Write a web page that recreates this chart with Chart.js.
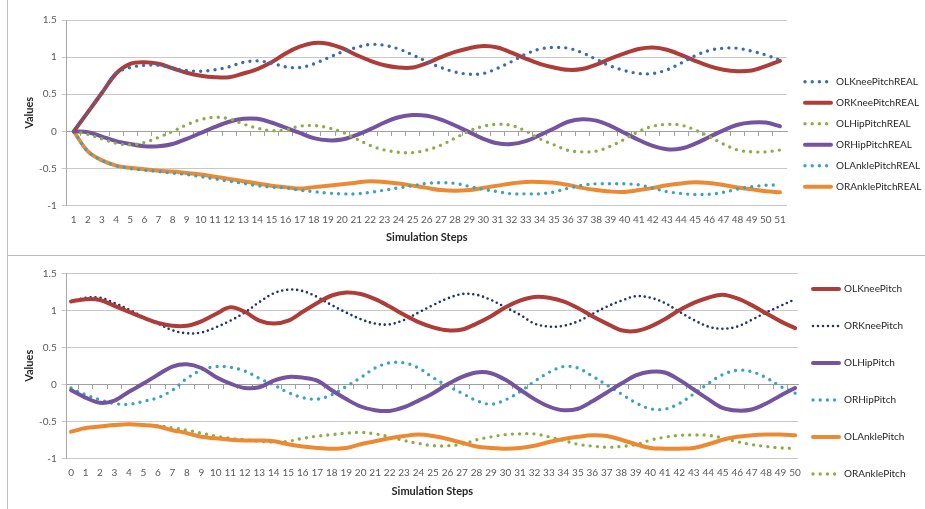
<!DOCTYPE html>
<html>
<head>
<meta charset="utf-8">
<script src="https://cdn.jsdelivr.net/npm/chart.js@4.4.1/dist/chart.umd.min.js"></script>
<style>
html,body{margin:0;padding:0;background:#fff;}
#wrap{position:relative;width:925px;height:509px;overflow:hidden;background:#fff;}
.pane{position:absolute;left:0;width:925px;}
#p1{top:0;height:252px;}
#p2{top:255px;height:254px;}
.frame{position:absolute;background:#bdbdbd;}
</style>
</head>
<body>
<div id="wrap">
  <div class="pane" id="p1"><canvas id="c1" width="925" height="252"></canvas></div>
  <div class="pane" id="p2"><canvas id="c2" width="925" height="254"></canvas></div>
  <div class="frame" style="left:7px;top:0;width:1px;height:509px"></div>
  <div class="frame" style="left:7px;top:255px;width:918px;height:1px"></div>
</div>
<script>
// ---------- top chart data ----------
const stepsTop = [1,2,3,4,5,6,7,8,9,10,11,12,13,14,15,16,17,18,19,20,21,22,23,24,25,26,27,28,29,30,31,32,33,34,35,36,37,38,39,40,41,42,43,44,45,46,47,48,49,50,51];
const olKneeReal  = [0,0.26,0.52,0.78,0.86,0.89,0.89,0.85,0.82,0.81,0.83,0.87,0.93,0.95,0.92,0.87,0.86,0.91,0.99,1.07,1.13,1.17,1.16,1.11,1.03,0.94,0.86,0.80,0.77,0.78,0.85,0.94,1.04,1.11,1.13,1.12,1.06,0.97,0.88,0.82,0.78,0.78,0.83,0.92,1.02,1.09,1.12,1.12,1.08,1.03,0.96];
const orKneeReal  = [0,0.26,0.52,0.78,0.91,0.93,0.91,0.85,0.79,0.75,0.73,0.73,0.78,0.84,0.93,1.05,1.14,1.19,1.18,1.12,1.03,0.95,0.89,0.86,0.86,0.92,1.00,1.07,1.12,1.15,1.13,1.06,0.98,0.91,0.86,0.83,0.84,0.90,0.98,1.05,1.11,1.13,1.10,1.03,0.95,0.88,0.83,0.81,0.82,0.88,0.95];
const olHipReal   = [0,-0.04,-0.10,-0.16,-0.18,-0.15,-0.08,0,0.09,0.16,0.19,0.17,0.10,0.045,0.01,0.02,0.07,0.08,0.05,-0.01,-0.10,-0.19,-0.25,-0.28,-0.285,-0.25,-0.185,-0.09,0.005,0.07,0.095,0.08,0.005,-0.10,-0.18,-0.255,-0.275,-0.265,-0.20,-0.105,0,0.07,0.095,0.085,0.02,-0.07,-0.17,-0.25,-0.275,-0.275,-0.25];
const orHipReal   = [0,-0.01,-0.07,-0.13,-0.17,-0.20,-0.20,-0.17,-0.10,-0.02,0.06,0.13,0.17,0.17,0.12,0.05,-0.02,-0.09,-0.12,-0.11,-0.05,0.03,0.12,0.19,0.22,0.21,0.16,0.08,-0.01,-0.10,-0.16,-0.17,-0.13,-0.05,0.04,0.13,0.165,0.145,0.075,-0.02,-0.115,-0.195,-0.24,-0.23,-0.165,-0.075,0.015,0.09,0.12,0.12,0.07];
const olAnkleReal = [0,-0.27,-0.39,-0.46,-0.50,-0.52,-0.54,-0.56,-0.58,-0.61,-0.64,-0.67,-0.70,-0.73,-0.75,-0.76,-0.79,-0.81,-0.83,-0.84,-0.84,-0.82,-0.79,-0.76,-0.73,-0.70,-0.69,-0.70,-0.74,-0.78,-0.81,-0.84,-0.84,-0.84,-0.815,-0.765,-0.725,-0.705,-0.705,-0.705,-0.72,-0.765,-0.81,-0.835,-0.85,-0.845,-0.82,-0.775,-0.745,-0.725,-0.72];
const orAnkleReal = [0,-0.27,-0.39,-0.46,-0.49,-0.51,-0.53,-0.54,-0.56,-0.58,-0.61,-0.64,-0.67,-0.70,-0.73,-0.75,-0.77,-0.75,-0.73,-0.71,-0.69,-0.67,-0.68,-0.70,-0.73,-0.76,-0.79,-0.80,-0.79,-0.76,-0.73,-0.70,-0.68,-0.68,-0.69,-0.72,-0.76,-0.79,-0.81,-0.815,-0.79,-0.76,-0.725,-0.70,-0.685,-0.695,-0.72,-0.755,-0.78,-0.805,-0.82];

// ---------- bottom chart data ----------
const stepsBottom = [0,1,2,3,4,5,6,7,8,9,10,11,12,13,14,15,16,17,18,19,20,21,22,23,24,25,26,27,28,29,30,31,32,33,34,35,36,37,38,39,40,41,42,43,44,45,46,47,48,49,50];
const olKnee  = [1.12,1.15,1.14,1.06,0.98,0.90,0.83,0.79,0.79,0.85,0.95,1.04,0.98,0.86,0.82,0.86,0.98,1.10,1.20,1.24,1.22,1.15,1.05,0.94,0.84,0.77,0.73,0.74,0.82,0.92,1.04,1.13,1.18,1.17,1.12,1.03,0.92,0.82,0.73,0.72,0.78,0.88,1.00,1.10,1.17,1.21,1.16,1.07,0.96,0.85,0.76];
const orKnee  = [1.12,1.17,1.17,1.10,1.01,0.91,0.82,0.73,0.69,0.70,0.77,0.86,0.97,1.11,1.23,1.28,1.26,1.18,1.07,0.97,0.88,0.82,0.81,0.87,0.97,1.07,1.16,1.22,1.21,1.14,1.04,0.94,0.82,0.78,0.79,0.85,0.95,1.05,1.13,1.19,1.17,1.10,0.98,0.87,0.78,0.75,0.78,0.87,0.97,1.06,1.15];
const olHip   = [-0.08,-0.18,-0.25,-0.22,-0.10,0.01,0.13,0.24,0.27,0.22,0.10,0.01,-0.05,-0.04,0.05,0.10,0.09,0.05,-0.08,-0.20,-0.30,-0.35,-0.36,-0.31,-0.22,-0.12,0,0.10,0.16,0.15,0.06,-0.07,-0.20,-0.30,-0.35,-0.33,-0.23,-0.11,0.01,0.12,0.17,0.16,0.06,-0.07,-0.20,-0.32,-0.355,-0.34,-0.26,-0.15,-0.05];
const orHip   = [-0.05,-0.14,-0.21,-0.26,-0.27,-0.23,-0.18,-0.08,0.08,0.19,0.24,0.23,0.18,0.08,-0.01,-0.11,-0.18,-0.20,-0.14,-0.03,0.09,0.22,0.29,0.29,0.22,0.09,-0.02,-0.12,-0.22,-0.27,-0.21,-0.10,0.04,0.16,0.24,0.22,0.11,-0.01,-0.13,-0.25,-0.33,-0.335,-0.26,-0.13,0.01,0.13,0.19,0.17,0.09,-0.03,-0.12];
const olAnkle = [-0.64,-0.59,-0.57,-0.55,-0.54,-0.55,-0.57,-0.62,-0.66,-0.71,-0.73,-0.75,-0.76,-0.76,-0.77,-0.81,-0.84,-0.86,-0.87,-0.86,-0.81,-0.77,-0.73,-0.70,-0.68,-0.70,-0.74,-0.79,-0.84,-0.86,-0.87,-0.86,-0.83,-0.78,-0.74,-0.71,-0.69,-0.70,-0.75,-0.81,-0.86,-0.87,-0.87,-0.86,-0.81,-0.75,-0.71,-0.69,-0.68,-0.68,-0.69];
const orAnkle = [-0.64,-0.60,-0.57,-0.55,-0.54,-0.55,-0.56,-0.59,-0.62,-0.66,-0.70,-0.73,-0.75,-0.77,-0.78,-0.77,-0.73,-0.70,-0.68,-0.66,-0.65,-0.67,-0.71,-0.76,-0.80,-0.83,-0.83,-0.81,-0.75,-0.71,-0.68,-0.67,-0.67,-0.71,-0.76,-0.81,-0.835,-0.85,-0.84,-0.815,-0.755,-0.715,-0.69,-0.685,-0.69,-0.725,-0.775,-0.815,-0.84,-0.86,-0.865];

const yTicks = [-1,-0.5,0,0.5,1,1.5];

const C = {
  blue:'#3A6DB0', red:'#AE3D39', green:'#8BAE48', purple:'#74539F',
  teal:'#3CA3C0', orange:'#EC8A33', navy:'#1F3768'
};
const F = 'Lato, "Open Sans", sans-serif';

// places the library's legend box at a fixed spot and forces its width
const legendPlace = {
  id: 'legendPlace',
  beforeLayout(chart, args, o) {
    const lg = chart.legend;
    if (lg && !lg._fixedW) {
      const fit = lg.fit;
      lg.fit = function () { fit.call(this); this.width = o.width; };
      lg._fixedW = true;
    }
  },
  afterLayout(chart, args, o) {
    const lg = chart.legend;
    if (!lg) return;
    const pad = lg.options.labels.padding;
    const w = lg.width;
    lg.left = o.x - pad; lg.right = lg.left + w;
    lg.top = o.y - pad; lg.bottom = lg.top + 1000;
  }
};

function buildChart(id, opt) {
  const H = opt.height;
  const datasets = opt.series.map(s => ({
    label: s.label,
    data: s.values.map((v, i) => ({x: opt.steps[i], y: v})),
    borderColor: s.color,
    backgroundColor: s.color,
    borderWidth: s.dotted ? (s.w || 3.4) : 4,
    borderDash: s.dotted ? [0, s.gap || 7.2] : [],
    borderCapStyle: 'round',
    borderJoinStyle: 'round',
    pointRadius: 0,
    pointHoverRadius: 0,
    tension: 0.35,
    fill: false
  }));
  const bounds = opt.steps.slice(1).map(v => v - 0.5);
  return new Chart(document.getElementById(id), {
    type: 'line',
    data: { datasets },
    plugins: [legendPlace],
    options: {
      responsive: false,
      animation: false,
      devicePixelRatio: 1,
      events: [],
      layout: { padding: { top: opt.areaTop, left: 0, right: 0, bottom: 0 } },
      scales: {
        x: {
          type: 'linear', position: 'bottom', min: opt.xmin, max: opt.xmax,
          afterBuildTicks: s => { s.ticks = opt.steps.map(v => ({value: v})); },
          ticks: { autoSkip: false, maxRotation: 0, minRotation: 0, padding: opt.xLabelPad,
                   color: '#595959', font: {family: F, size: 10}, callback: v => String(v) },
          grid: { display: false, drawTicks: false },
          border: { display: false },
          title: { display: true, text: 'Simulation Steps', color: '#262626',
                   font: {family: F, size: 11, weight: 'bold'}, padding: {top: 0, bottom: opt.xTitlePad} },
          afterFit: s => { s.height = H - opt.areaBottom; }
        },
        x0: {
          type: 'linear', axis: 'x', position: {y: 0}, min: opt.xmin, max: opt.xmax,
          afterBuildTicks: s => { s.ticks = bounds.map(v => ({value: v})); },
          ticks: { display: false },
          grid: { display: true, drawOnChartArea: false, drawTicks: true, tickLength: 4, tickColor: '#a0a0a0', tickWidth: 1 },
          border: { display: true, color: '#a0a0a0', width: 1 }
        },
        y: {
          type: 'linear', min: -1, max: 1.5,
          afterBuildTicks: s => { s.ticks = yTicks.map(v => ({value: v})); },
          ticks: { padding: 5, color: '#595959', font: {family: F, size: 10}, callback: v => String(v) },
          grid: { color: '#c8c8c8', lineWidth: 1, drawTicks: true, tickLength: 5, tickColor: '#c8c8c8' },
          border: { display: true, color: '#a8a8a8', width: 1 },
          title: { display: true, text: 'Values', color: '#262626',
                   font: {family: F, size: 11, weight: 'bold'}, padding: {top: 23, bottom: 0} },
          afterFit: s => { s.width = opt.areaLeft; }
        }
      },
      plugins: {
        tooltip: { enabled: false },
        legendPlace: opt.legend,
        legend: {
          display: true, position: 'right', align: 'start',
          labels: {
            usePointStyle: true, pointStyle: 'line', pointStyleWidth: 26, boxHeight: 10,
            padding: opt.legendPad, color: '#262626', font: {family: F, size: 10},
            generateLabels: chart => chart.data.datasets.map((d, i) => ({
              text: d.label, fillStyle: d.borderColor, strokeStyle: d.borderColor,
              lineWidth: d.borderWidth, lineDash: d.borderDash, lineCap: 'round', lineJoin: 'round',
              pointStyle: 'line', hidden: false, datasetIndex: i, fontColor: '#262626'
            }))
          }
        }
      }
    }
  });
}

buildChart('c1', {
  height: 252, areaTop: 20, areaBottom: 205.7, areaLeft: 66.7,
  xmin: 0.5, xmax: 51.5, steps: stepsTop,
  xLabelPad: 8, xTitlePad: 8, legendPad: 11,
  legend: { width: 138, x: 805, y: 76.7 },
  series: [
    { label: 'OLKneePitchREAL',  values: olKneeReal,  color: C.blue,   dotted: true },
    { label: 'ORKneePitchREAL',  values: orKneeReal,  color: C.red },
    { label: 'OLHipPitchREAL',   values: olHipReal,   color: C.green,  dotted: true },
    { label: 'ORHipPitchREAL',   values: orHipReal,   color: C.purple },
    { label: 'OLAnklePitchREAL', values: olAnkleReal, color: C.teal,   dotted: true },
    { label: 'ORAnklePitchREAL', values: orAnkleReal, color: C.orange }
  ]
});

buildChart('c2', {
  height: 254, areaTop: 18.3, areaBottom: 203.3, areaLeft: 66.7,
  xmin: -0.3, xmax: 50.2, steps: stepsBottom,
  xLabelPad: 8.7, xTitlePad: 11.4, legendPad: 27,
  legend: { width: 127, x: 813, y: 29 },
  series: [
    { label: 'OLKneePitch',  values: olKnee,  color: C.red },
    { label: 'ORKneePitch',  values: orKnee,  color: C.navy,  dotted: true, w: 2.6, gap: 5 },
    { label: 'OLHipPitch',   values: olHip,   color: C.purple },
    { label: 'ORHipPitch',   values: orHip,   color: C.teal,  dotted: true },
    { label: 'OLAnklePitch', values: olAnkle, color: C.orange },
    { label: 'ORAnklePitch', values: orAnkle, color: C.green, dotted: true }
  ]
});
</script>
</body>
</html>
